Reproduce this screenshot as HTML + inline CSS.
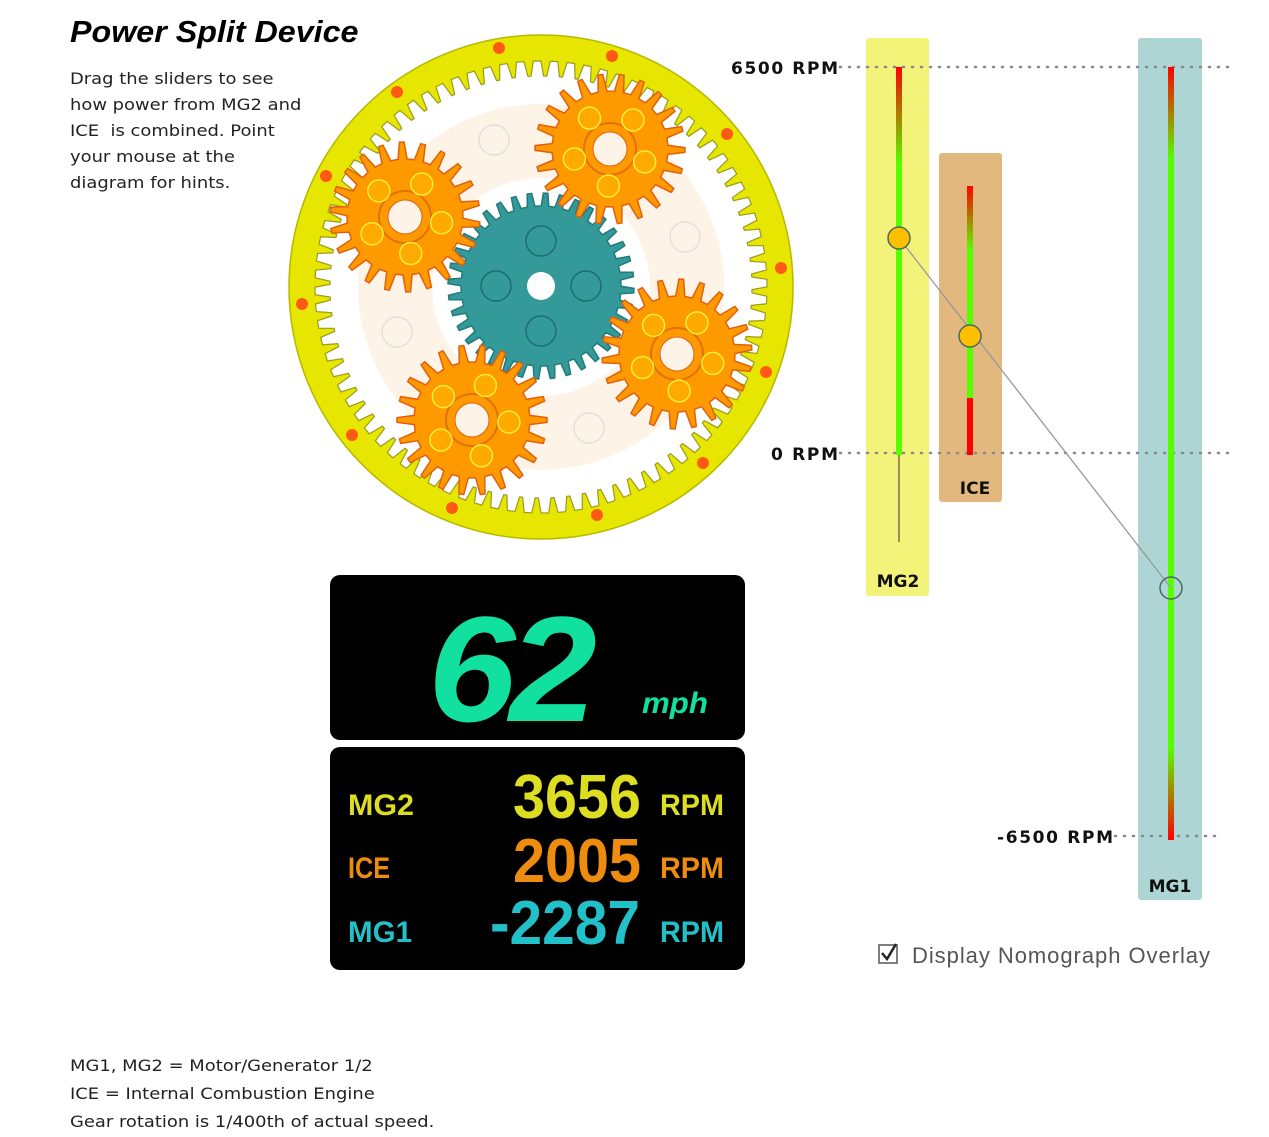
<!DOCTYPE html>
<html><head><meta charset="utf-8">
<style>
html,body{margin:0;padding:0;background:#fff;}
body{width:1269px;height:1137px;position:relative;overflow:hidden;font-family:"DejaVu Sans","Liberation Sans",sans-serif;}
.t{position:absolute;color:#222;font-size:16px;line-height:26px;white-space:nowrap;}
</style></head><body>
<div class="t" style="left:70px;top:12px;font-family:'Liberation Sans',sans-serif;font-weight:bold;font-style:italic;font-size:31px;line-height:40px;color:#000;letter-spacing:0px;transform:scaleX(1.04);transform-origin:left;">Power Split Device</div>
<div class="t" style="left:70px;top:66px;font-size:16px;transform:scaleX(1.12);transform-origin:left top;">Drag the sliders to see<br>how power from MG2 and<br>ICE&nbsp; is combined. Point<br>your mouse at the<br>diagram for hints.</div>
<div class="t" style="left:70px;top:1052px;font-size:16px;line-height:28px;transform:scaleX(1.12);transform-origin:left top;">MG1, MG2 = Motor/Generator 1/2<br>ICE = Internal Combustion Engine<br>Gear rotation is 1/400th of actual speed.</div>

<svg id="s" width="1269" height="1137" style="position:absolute;left:0;top:0" xmlns="http://www.w3.org/2000/svg">
<defs>
<linearGradient id="g1" x1="0" y1="0" x2="0" y2="1"><stop offset="0" stop-color="#ff0000"/><stop offset="0.25" stop-color="#55ff00"/><stop offset="1" stop-color="#55ff00"/></linearGradient>
<linearGradient id="g2" x1="0" y1="0" x2="0" y2="1"><stop offset="0" stop-color="#ff0000"/><stop offset="0.3" stop-color="#55ff00"/><stop offset="1" stop-color="#55ff00"/></linearGradient>
<linearGradient id="g3" x1="0" y1="0" x2="0" y2="1"><stop offset="0" stop-color="#ff0000"/><stop offset="0.12" stop-color="#55ff00"/><stop offset="0.88" stop-color="#55ff00"/><stop offset="1" stop-color="#ff0000"/></linearGradient>
</defs>
<circle cx="541" cy="287" r="252" fill="#e6e600" stroke="#b8b800" stroke-width="1.5"/>
<path id="ringteeth" fill="#fff" stroke="#9a9a20" stroke-width="1.2"/>
<circle cx="541" cy="287" r="146" fill="none" stroke="#fdf3e6" stroke-width="74"/>
<g fill="none" stroke="#e4e0da" stroke-width="1.5">
<circle cx="494" cy="140" r="15"/><circle cx="685" cy="237" r="15"/><circle cx="397" cy="332" r="15"/><circle cx="589" cy="428" r="15"/></g>
<g id="dots" fill="#ff5a14"></g>
<g id="gears"></g>

<!-- nomograph -->
<rect x="866" y="38" width="63" height="558" rx="3" fill="#f3f37a"/>
<rect x="939" y="153" width="63" height="349" rx="3" fill="#e2b87e"/>
<rect x="1138" y="38" width="64" height="862" rx="3" fill="#acd5d4"/>
<g stroke="#888" stroke-width="2.5" stroke-dasharray="1 8" stroke-linecap="round">
<line x1="840" y1="67" x2="1228" y2="67"/><line x1="840" y1="453" x2="1228" y2="453"/><line x1="1115" y1="836" x2="1222" y2="836"/></g>
<rect x="896" y="67" width="6" height="388" fill="url(#g1)"/>
<line x1="899" y1="455" x2="899" y2="542" stroke="#333" stroke-width="1"/>
<rect x="967" y="186" width="6" height="212" fill="url(#g2)"/>
<rect x="967" y="398" width="6" height="57" fill="#ff0000"/>
<rect x="1168" y="67" width="6" height="773" fill="url(#g3)"/>
<line x1="899" y1="238" x2="1171" y2="588" stroke="#999" stroke-width="1.3"/>
<circle cx="899" cy="238" r="11" fill="#ffc000" stroke="#4a6a60" stroke-width="1.5"/>
<circle cx="970" cy="336" r="11" fill="#ffc000" stroke="#4a6a60" stroke-width="1.5"/>
<circle cx="1171" cy="588" r="11" fill="none" stroke="#4a6a60" stroke-width="1.5"/>
<g font-family="DejaVu Sans,sans-serif" font-weight="bold" font-size="17" fill="#111">
<text x="731" y="74" textLength="107">6500 RPM</text>
<text x="771" y="460" textLength="67">0 RPM</text>
<text x="997" y="843" textLength="116">-6500 RPM</text>
<text x="898" y="587" text-anchor="middle">MG2</text>
<text x="975" y="494" text-anchor="middle">ICE</text>
<text x="1170" y="892" text-anchor="middle">MG1</text>
</g>
<rect x="879" y="945" width="18" height="18" fill="#fff" stroke="#555" stroke-width="1.5"/>
<path d="M882 953 l5 6 l9 -15" fill="none" stroke="#222" stroke-width="2.5"/>
<text x="912" y="963" font-family="Liberation Sans,sans-serif" font-size="22" fill="#555" textLength="298">Display Nomograph Overlay</text>

<!-- LCD -->
<rect x="330" y="575" width="415" height="165" rx="10" fill="#000"/>
<rect x="330" y="747" width="415" height="223" rx="10" fill="#000"/>
<g font-family="Liberation Sans,sans-serif" font-style="italic" font-weight="bold">
<text x="0" y="0" font-size="150" fill="#11e09e" transform="translate(428,721) scale(1.05,1)" letter-spacing="-6">62</text>
<text x="642" y="713" font-size="30" fill="#11e09e" textLength="66" lengthAdjust="spacingAndGlyphs">mph</text>
</g>
<g font-family="Liberation Sans,sans-serif" font-weight="bold">
<text x="348" y="815" font-size="30" fill="#dddd22" textLength="66" lengthAdjust="spacingAndGlyphs">MG2</text>
<text x="348" y="878" font-size="30" fill="#ee8c10" textLength="42" lengthAdjust="spacingAndGlyphs">ICE</text>
<text x="348" y="942" font-size="30" fill="#22c0c8" textLength="64" lengthAdjust="spacingAndGlyphs">MG1</text>
<text x="513" y="818" font-size="62" fill="#dddd22" textLength="128" lengthAdjust="spacingAndGlyphs">3656</text>
<text x="513" y="882" font-size="62" fill="#ee8c10" textLength="128" lengthAdjust="spacingAndGlyphs">2005</text>
<text x="490" y="944" font-size="62" fill="#22c0c8" textLength="150" lengthAdjust="spacingAndGlyphs">-2287</text>
<text x="660" y="815" font-size="30" fill="#dddd22" textLength="64" lengthAdjust="spacingAndGlyphs">RPM</text>
<text x="660" y="878" font-size="30" fill="#ee8c10" textLength="64" lengthAdjust="spacingAndGlyphs">RPM</text>
<text x="660" y="942" font-size="30" fill="#22c0c8" textLength="64" lengthAdjust="spacingAndGlyphs">RPM</text>
</g>
</svg>
<script>
(function(){
var NS="http://www.w3.org/2000/svg";
function gear(cx,cy,n,ro,ri,rot,w){w=w||0.28;var d="";for(var i=0;i<n;i++){var a=rot+i*2*Math.PI/n,s=Math.PI/n;
var pts=[[ri,a-s*0.55],[ro,a-s*w],[ro,a+s*w],[ri,a+s*0.55],[ri,a+s*1.45]];
pts.forEach(function(p,j){var x=cx+p[0]*Math.cos(p[1]),y=cy+p[0]*Math.sin(p[1]);d+=(i==0&&j==0?"M":"L")+x.toFixed(1)+" "+y.toFixed(1)+" ";});}
return d+"Z";}
function el(t,a,p){var e=document.createElementNS(NS,t);for(var k in a)e.setAttribute(k,a[k]);p.appendChild(e);return e;}
document.getElementById("ringteeth").setAttribute("d",gear(541,287,84,211,226,0.02,0.2));
var dots=document.getElementById("dots");
[[499,48],[612,56],[397,92],[727,134],[326,176],[781,268],[302,304],[766,372],[352,435],[703,463],[452,508],[597,515]].forEach(function(p){el("circle",{cx:p[0],cy:p[1],r:6},dots);});
var g=document.getElementById("gears");
el("path",{d:gear(541,286,36,93,80,0.05),fill:"#339999",stroke:"#237a7a","stroke-width":1.5},g);
[[541,241],[541,331],[496,286],[586,286]].forEach(function(p){el("circle",{cx:p[0],cy:p[1],r:15,fill:"none",stroke:"#1f6d6d","stroke-width":1.5},g);});
el("circle",{cx:541,cy:286,r:14,fill:"#fff"},g);
[[405,217,0.1],[610,149,0.3],[677,354,0.2],[472,420,0.0]].forEach(function(p){
el("path",{d:gear(p[0],p[1],22,75,58,p[2],0.22),fill:"#ff9900",stroke:"#e06010","stroke-width":1.5},g);
el("circle",{cx:p[0],cy:p[1],r:26,fill:"none",stroke:"#e07010","stroke-width":2},g);
for(var k=0;k<5;k++){var a=p[2]+k*2*Math.PI/5-1.2;el("circle",{cx:p[0]+37*Math.cos(a),cy:p[1]+37*Math.sin(a),r:11,fill:"#ffaa00",stroke:"#ffee33","stroke-width":1.5},g);}
el("circle",{cx:p[0],cy:p[1],r:17,fill:"#fdf3e6",stroke:"#e06010","stroke-width":1},g);
});
})();
</script>
</body></html>
